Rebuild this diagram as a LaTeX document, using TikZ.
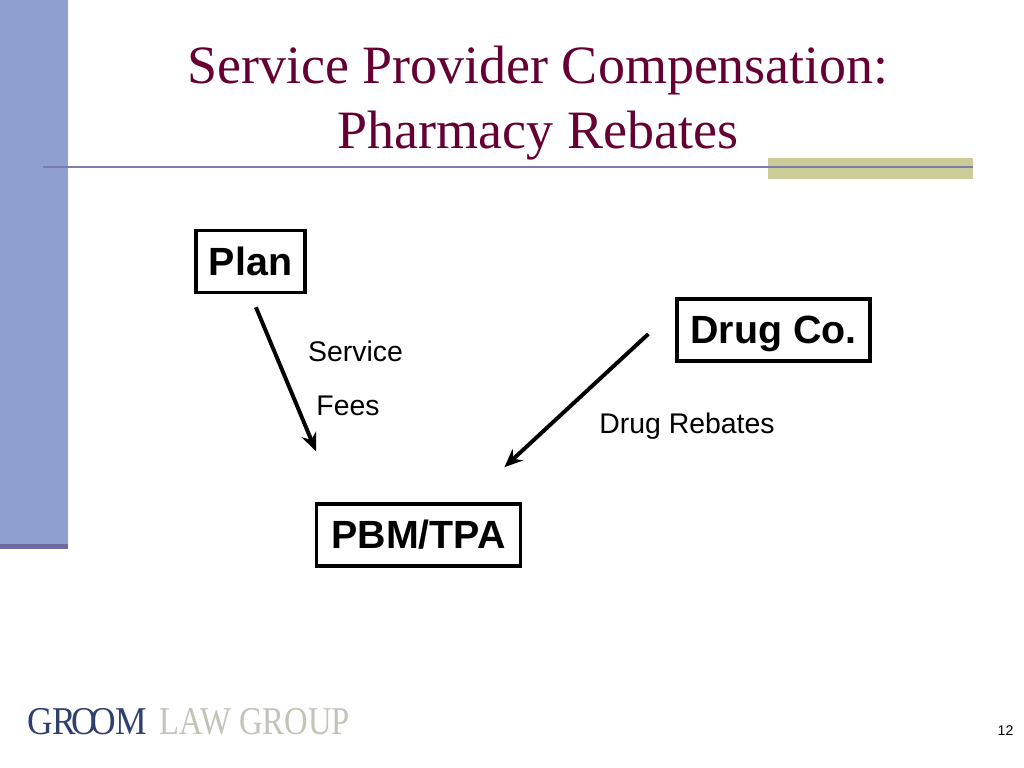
\documentclass[tikz,border=0pt]{standalone}
\usepackage{fontspec}
\setmainfont{Liberation Serif}
\newfontfamily\arialfont{Liberation Sans}
\usetikzlibrary{arrows.meta}
\definecolor{sidebar}{HTML}{8F9FD0}
\definecolor{sideband}{HTML}{6D6BA0}
\definecolor{ruleline}{HTML}{7C7CAC}
\definecolor{olivebar}{HTML}{CCCC99}
\definecolor{titlered}{HTML}{660033}
\definecolor{groomblue}{HTML}{2F3F70}
\definecolor{groomgray}{HTML}{C4C3B8}
\tikzset{
  partybox/.style={draw=black, line width=2.5pt, fill=white, inner sep=0pt, text depth=0.6pt, font=\arialfont\fontsize{28}{30}\selectfont\bfseries},
  flowlabel/.style={inner sep=0pt, font=\arialfont\fontsize{20.2}{24}\selectfont},
  flowarrow/.style={draw=black, line width=2.8pt, -{Stealth[length=13pt,width=11pt]}}
}
\begin{document}
\begin{tikzpicture}[x=0.025cm, y=-0.025cm]
\useasboundingbox (0,0) rectangle (1024,768);
\fill[white] (0,0) rectangle (1024,768);

% Sidebar
\fill[sidebar] (0,0) rectangle (68,545);
\fill[sideband] (0,544) rectangle (68,549);

% Title rule
\fill[olivebar] (768,158.5) rectangle (973,179);
\draw[ruleline, line width=2pt] (43,167) -- (973,167);

% Title
\node[align=center, text=titlered, font=\fontsize{38.4}{46.2}\selectfont] (title) at (538,103) {Service Provider Compensation:\\Pharmacy Rebates};

% Parties
\node[partybox, minimum width=2.72cm, minimum height=1.55cm] (plan) at (250.5,261.5) {Plan};
\node[partybox, minimum width=4.82cm, minimum height=1.55cm] (drug) at (773.5,330) {Drug Co.};
\node[partybox, minimum width=5.09cm, minimum height=1.55cm] (pbm) at (418.5,535) {PBM/TPA};

% Arrows
\draw[flowarrow, shorten <=0.35cm, shorten >=1.38cm] (plan.south) -- ([xshift=-2.03cm]pbm.north);
\draw[flowarrow, shorten <=0.92cm, shorten >=1.29cm] ([yshift=0.525cm]drug.west) -- ([xshift=1.2cm]pbm.north);

% Flow labels
\node[flowlabel] (service) at (355.5,351) {Service};
\node[flowlabel] (fees) at (348,406) {Fees};
\node[flowlabel] (rebates) at (687,426.5) {Drug Rebates};

% Logo
\node[text=groomblue, inner sep=0pt, font=\fontsize{28}{30}\selectfont, xscale=0.9, transform shape] (groom) at (87,722) {GR\kern-0.13em O\kern-0.2em O\kern-0.02em M};
\node[text=groomgray, inner sep=0pt, font=\fontsize{28}{30}\selectfont, xscale=0.83, transform shape] (lawgroup) at (254.5,722) {LAW GROUP};

% Page number
\node[inner sep=0pt, font=\arialfont\fontsize{10}{12}\selectfont] (pagenum) at (1005.5,731) {12};
\end{tikzpicture}
\end{document}
